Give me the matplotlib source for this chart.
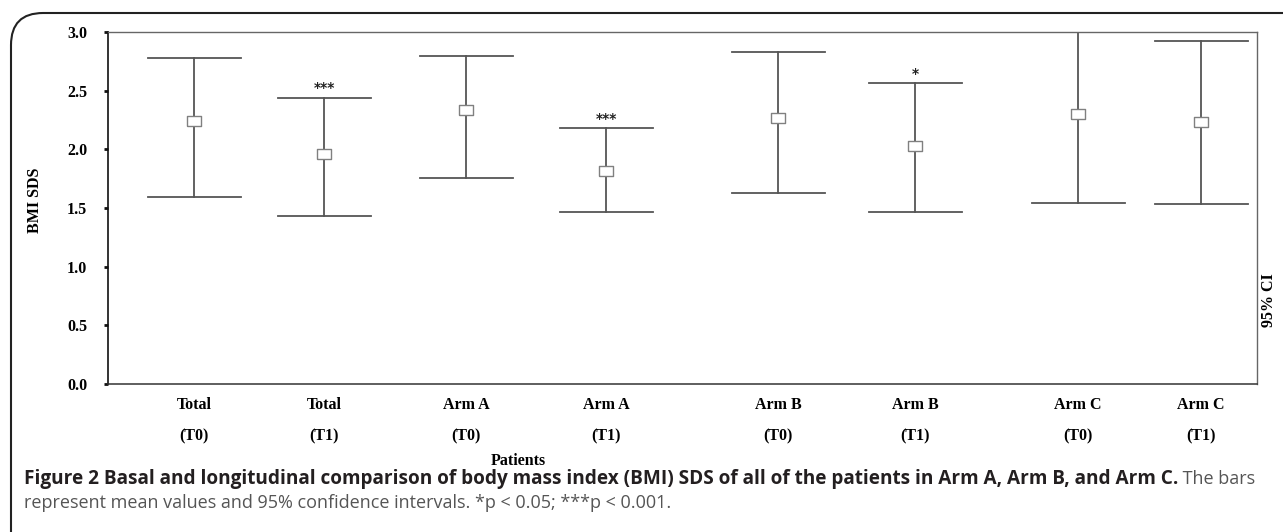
import numpy as np
import matplotlib
matplotlib.use('Agg')
import matplotlib.pyplot as plt
from matplotlib.patches import FancyBboxPatch

# data
groups = ['Total', 'Total', 'Arm A', 'Arm A', 'Arm B', 'Arm B', 'Arm C', 'Arm C']
times = ['(T0)', '(T1)', '(T0)', '(T1)', '(T0)', '(T1)', '(T0)', '(T1)']
x_pos = [194, 324, 466, 606, 778, 915, 1078, 1201]
means = [2.244, 1.957, 2.335, 1.815, 2.267, 2.028, 2.298, 2.236]
ci_low = [1.596, 1.434, 1.758, 1.469, 1.631, 1.463, 1.545, 1.537]
ci_high = [2.780, 2.440, 2.795, 2.180, 2.827, 2.563, 2.997, 2.923]
stars = ['', '***', '', '***', '', '*', '', '']
yticks = [0.0, 0.5, 1.0, 1.5, 2.0, 2.5, 3.0]

W, H = 1283, 532
fig = plt.figure(figsize=(W/100, H/100), dpi=100)
ax = fig.add_axes([108/W, 1-384/H, (1257-108)/W, (384-32)/H])

serif = 'Liberation Serif'
line_c = '#555555'
cap_half = 46.5
fs = 11.5

for i in range(len(x_pos)):
	x = x_pos[i]
	ax.plot([x, x], [ci_low[i], ci_high[i]], color=line_c, lw=1.3, zorder=1)
	ax.plot([x-cap_half, x+cap_half], [ci_high[i], ci_high[i]], color=line_c, lw=1.3)
	ax.plot([x-cap_half, x+cap_half], [ci_low[i], ci_low[i]], color=line_c, lw=1.3)
	if stars[i] != '':
		ax.text(x, ci_high[i]+0.02, stars[i], ha='center', va='bottom', fontsize=10,
			fontweight='bold', family='DejaVu Sans', color='#222222')

box = [(-1.35, -1), (1.35, -1), (1.35, 1), (-1.35, 1), (-1.35, -1)]
ax.plot(x_pos, means, linestyle='none', marker=box, markersize=10, markerfacecolor='white',
	markeredgecolor='#808080', markeredgewidth=1.0, zorder=3)

ax.set_xlim(108, 1257)
ax.set_ylim(0, 3.0)
ax.set_yticks(yticks)
ax.set_yticklabels(['%.1f' % t for t in yticks], fontfamily=serif, fontweight='bold', fontsize=fs)
ax.set_xticks([])
ax.tick_params(axis='y', length=3, width=2, pad=12, color='#111111')
for side in ['top', 'right']:
	ax.spines[side].set_color('#666666')
	ax.spines[side].set_linewidth(1.0)
ax.spines['bottom'].set_color('#333333')
ax.spines['bottom'].set_linewidth(1.1)
ax.spines['left'].set_color('#111111')
ax.spines['left'].set_linewidth(1.2)

# category labels under the axis
for i in range(len(x_pos)):
	ax.text(x_pos[i], -0.18, groups[i], ha='center', va='center', fontsize=fs,
		fontweight='bold', family=serif, transform=ax.transData)
	ax.text(x_pos[i], -0.45, times[i], ha='center', va='center', fontsize=fs,
		fontweight='bold', family=serif, transform=ax.transData)

fig.text(518/W, 1-461/H, 'Patients', ha='center', va='center', fontsize=fs, fontweight='bold', family=serif)
fig.text(35/W, 1-200/H, 'BMI SDS', ha='center', va='center', rotation=90, fontsize=fs,
	fontweight='bold', family=serif)
fig.text(1269/W, 1-300/H, '95% CI', ha='center', va='center', rotation=90, fontsize=fs,
	fontweight='bold', family=serif)

# rounded frame round the figure panel
frame = FancyBboxPatch((11/W, -0.2), 1.2, 1-13/H+0.2, boxstyle='round,pad=0,rounding_size=0.025',
	transform=fig.transFigure, fill=False, edgecolor='#222222', lw=1.5, mutation_aspect=W/H)
fig.add_artist(frame)

# caption
cap_font = 'Open Sans'
t1 = fig.text(24/W, 1-479/H, 'Figure 2 Basal and longitudinal comparison of body mass index (BMI) SDS of all of the patients in Arm A, Arm B, and Arm C.',
	ha='left', va='center', fontsize=13.7, fontweight='bold', family=cap_font, color='#231f20')
fig.canvas.draw()
bb = t1.get_window_extent()
fig.text(bb.x1/W, 1-479/H, ' The bars', ha='left', va='center', fontsize=13.0, family=cap_font, color='#555555')
fig.text(24/W, 1-503/H, 'represent mean values and 95% confidence intervals. *p < 0.05; ***p < 0.001.',
	ha='left', va='center', fontsize=13.0, family=cap_font, color='#555555')

fig.savefig('out.png', dpi=100)
